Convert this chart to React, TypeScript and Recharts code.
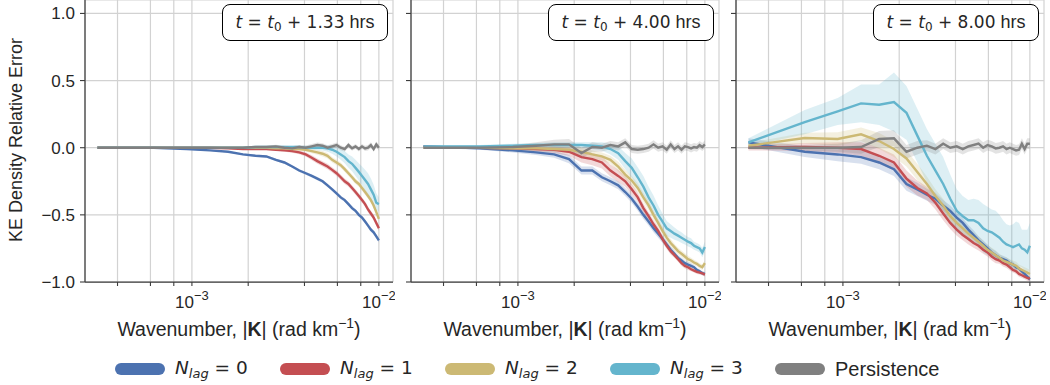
import React from 'react';
import { ComposedChart, Line, Area, XAxis, YAxis, CartesianGrid } from 'recharts';

// Wavenumber |K| in rad/km (shared x values of all panels)
const wavenumber = [
  0.0003125, 0.000625, 0.0009375, 0.00125, 0.0015625, 0.001875, 0.0021875, 0.0025,
  0.0028125, 0.003125, 0.0034375, 0.00375, 0.0040625, 0.004375, 0.0046875, 0.005,
  0.0053125, 0.005625, 0.0059375, 0.00625, 0.0065625, 0.006875, 0.0071875, 0.0075,
  0.0078125, 0.008125, 0.0084375, 0.00875, 0.0090625, 0.009375, 0.0096875, 0.01,
];

const xTicks = [0.0004, 0.0006, 0.0008, 0.001, 0.002, 0.004, 0.006, 0.008, 0.01];
const xTickLabels: Record<string, string> = { '0.001': '−3', '0.01': '−2' };
const yTicks = [-1, -0.5, 0, 0.5, 1];
const panelTimes = ['1.33', '4.00', '8.00'];

// t0 + 1.33 hrs
const lag0At1h = [0, 0, -0.01, -0.02, -0.03, -0.05, -0.06, -0.065, -0.09, -0.11, -0.14, -0.17, -0.19, -0.21, -0.23, -0.25, -0.28, -0.31, -0.34, -0.37, -0.39, -0.42, -0.45, -0.47, -0.5, -0.52, -0.55, -0.58, -0.61, -0.63, -0.66, -0.69];
const lag1At1h = [0, 0, 0, 0, -0.005, -0.01, -0.01, -0.01, -0.015, -0.02, -0.025, -0.035, -0.05, -0.075, -0.1, -0.12, -0.14, -0.165, -0.19, -0.22, -0.25, -0.27, -0.3, -0.33, -0.36, -0.39, -0.42, -0.46, -0.49, -0.52, -0.56, -0.6];
const lag2At1h = [0, 0, 0, 0, 0, 0, 0, 0, -0.005, -0.005, -0.01, -0.01, -0.015, -0.025, -0.035, -0.045, -0.06, -0.09, -0.11, -0.13, -0.16, -0.19, -0.22, -0.25, -0.27, -0.3, -0.33, -0.36, -0.39, -0.43, -0.48, -0.53];
const lag3At1h = [0, 0, 0, 0, 0, 0, 0.005, 0.005, 0.005, 0.005, 0.005, 0.005, 0, 0, 0, 0, -0.005, -0.015, -0.03, -0.05, -0.07, -0.1, -0.12, -0.15, -0.18, -0.21, -0.24, -0.27, -0.31, -0.35, -0.41, -0.42];
const persistAt1h = [0, 0, 0, 0, 0, 0, 0.005, 0.005, 0.01, 0, -0.005, 0.005, 0, 0.01, 0.02, 0.015, 0, 0.01, 0.02, 0, -0.01, 0.02, -0.005, 0.01, -0.01, 0.01, -0.005, 0, 0.02, -0.01, 0.025, 0];

const lag0SdAt1h = [0.002, 0.002, 0.003, 0.004, 0.005, 0.006, 0.007, 0.008, 0.009, 0.01, 0.01, 0.01, 0.011, 0.011, 0.012, 0.012, 0.012, 0.012, 0.013, 0.013, 0.013, 0.013, 0.014, 0.014, 0.014, 0.014, 0.015, 0.015, 0.015, 0.015, 0.015, 0.015];
const lag1SdAt1h = [0.002, 0.002, 0.002, 0.003, 0.004, 0.005, 0.006, 0.007, 0.008, 0.01, 0.012, 0.014, 0.016, 0.018, 0.02, 0.02, 0.02, 0.02, 0.02, 0.02, 0.02, 0.02, 0.02, 0.02, 0.02, 0.02, 0.02, 0.02, 0.02, 0.02, 0.02, 0.02];
const lag2SdAt1h = [0.002, 0.002, 0.002, 0.003, 0.004, 0.005, 0.006, 0.007, 0.008, 0.009, 0.01, 0.012, 0.014, 0.016, 0.018, 0.02, 0.02, 0.02, 0.02, 0.02, 0.02, 0.02, 0.02, 0.02, 0.02, 0.02, 0.02, 0.02, 0.02, 0.02, 0.02, 0.02];
const lag3SdAt1h = [0.002, 0.002, 0.003, 0.004, 0.005, 0.006, 0.007, 0.008, 0.009, 0.01, 0.01, 0.012, 0.014, 0.016, 0.018, 0.02, 0.025, 0.03, 0.035, 0.04, 0.045, 0.05, 0.055, 0.06, 0.065, 0.07, 0.075, 0.08, 0.08, 0.075, 0.07, 0.05];
const persistSdAt1h = [0.002, 0.002, 0.003, 0.004, 0.005, 0.006, 0.008, 0.01, 0.012, 0.014, 0.015, 0.016, 0.017, 0.018, 0.018, 0.018, 0.018, 0.018, 0.018, 0.018, 0.018, 0.018, 0.018, 0.018, 0.018, 0.018, 0.02, 0.02, 0.02, 0.02, 0.022, 0.022];

// t0 + 4.00 hrs
const lag0At4h = [0.01, -0.005, -0.02, -0.035, -0.05, -0.085, -0.17, -0.17, -0.22, -0.25, -0.28, -0.33, -0.38, -0.44, -0.5, -0.55, -0.6, -0.64, -0.68, -0.72, -0.76, -0.79, -0.82, -0.84, -0.86, -0.87, -0.88, -0.89, -0.91, -0.92, -0.935, -0.94];
const lag1At4h = [0.005, 0, -0.005, -0.01, -0.015, -0.03, -0.07, -0.085, -0.11, -0.17, -0.21, -0.25, -0.31, -0.37, -0.45, -0.51, -0.57, -0.62, -0.68, -0.73, -0.77, -0.8, -0.83, -0.86, -0.88, -0.89, -0.905, -0.915, -0.925, -0.93, -0.935, -0.945];
const lag2At4h = [0, 0, -0.005, -0.005, -0.01, -0.015, -0.03, -0.05, -0.065, -0.09, -0.14, -0.2, -0.245, -0.3, -0.37, -0.43, -0.5, -0.56, -0.62, -0.67, -0.71, -0.74, -0.77, -0.79, -0.81, -0.83, -0.84, -0.855, -0.865, -0.88, -0.89, -0.86];
const lag3At4h = [0.01, 0.01, 0.015, 0.02, 0.02, 0.02, 0.02, 0.015, 0.01, -0.01, -0.04, -0.1, -0.15, -0.22, -0.29, -0.37, -0.43, -0.5, -0.55, -0.6, -0.62, -0.64, -0.655, -0.67, -0.685, -0.7, -0.71, -0.73, -0.74, -0.75, -0.78, -0.74];
const persistAt4h = [0, 0, 0.005, 0.015, 0.025, 0.025, -0.04, 0.005, 0, 0.02, 0.01, 0.04, -0.01, -0.015, -0.01, 0, 0.025, 0, 0.01, -0.015, 0.025, -0.01, 0.01, -0.015, 0.01, 0.005, -0.005, 0.005, 0, 0.02, 0.005, 0.025];

const lag0SdAt4h = [0.01, 0.01, 0.015, 0.02, 0.025, 0.03, 0.03, 0.03, 0.03, 0.03, 0.03, 0.03, 0.03, 0.03, 0.03, 0.03, 0.03, 0.03, 0.03, 0.025, 0.025, 0.025, 0.02, 0.02, 0.02, 0.02, 0.02, 0.015, 0.015, 0.015, 0.015, 0.015];
const lag1SdAt4h = [0.01, 0.01, 0.015, 0.02, 0.025, 0.03, 0.04, 0.045, 0.045, 0.045, 0.045, 0.04, 0.04, 0.035, 0.035, 0.03, 0.03, 0.03, 0.025, 0.025, 0.025, 0.02, 0.02, 0.02, 0.02, 0.02, 0.015, 0.015, 0.015, 0.015, 0.015, 0.015];
const lag2SdAt4h = [0.01, 0.01, 0.015, 0.02, 0.02, 0.025, 0.03, 0.03, 0.03, 0.03, 0.035, 0.035, 0.035, 0.035, 0.035, 0.035, 0.035, 0.03, 0.03, 0.03, 0.03, 0.025, 0.025, 0.025, 0.025, 0.025, 0.02, 0.02, 0.02, 0.02, 0.02, 0.02];
const lag3SdAt4h = [0.01, 0.01, 0.015, 0.015, 0.02, 0.02, 0.02, 0.025, 0.03, 0.04, 0.05, 0.06, 0.07, 0.075, 0.08, 0.08, 0.075, 0.07, 0.06, 0.055, 0.05, 0.045, 0.04, 0.04, 0.035, 0.035, 0.035, 0.03, 0.03, 0.03, 0.035, 0.04];
const persistSdAt4h = [0.01, 0.01, 0.015, 0.025, 0.035, 0.04, 0.04, 0.035, 0.03, 0.03, 0.03, 0.03, 0.03, 0.03, 0.03, 0.03, 0.03, 0.03, 0.03, 0.03, 0.03, 0.03, 0.03, 0.03, 0.03, 0.03, 0.03, 0.03, 0.03, 0.03, 0.03, 0.03];

// t0 + 8.00 hrs
const lag0At8h = [0.04, -0.03, -0.05, -0.07, -0.11, -0.16, -0.27, -0.31, -0.35, -0.38, -0.43, -0.47, -0.52, -0.56, -0.61, -0.65, -0.69, -0.72, -0.75, -0.78, -0.8, -0.82, -0.83, -0.84, -0.86, -0.87, -0.89, -0.9, -0.92, -0.94, -0.96, -0.98];
const lag1At8h = [0, 0.005, 0, -0.01, -0.06, -0.11, -0.23, -0.3, -0.34, -0.41, -0.49, -0.56, -0.61, -0.65, -0.68, -0.71, -0.73, -0.76, -0.78, -0.81, -0.83, -0.84, -0.86, -0.87, -0.89, -0.91, -0.92, -0.94, -0.95, -0.96, -0.97, -0.975];
const lag2At8h = [0.015, 0.072, 0.065, 0.1, 0.05, -0.01, -0.08, -0.18, -0.27, -0.36, -0.43, -0.51, -0.56, -0.6, -0.64, -0.67, -0.7, -0.73, -0.76, -0.78, -0.8, -0.82, -0.84, -0.85, -0.86, -0.87, -0.88, -0.9, -0.91, -0.92, -0.93, -0.94];
const lag3At8h = [0.04, 0.19, 0.27, 0.33, 0.32, 0.34, 0.26, 0.09, -0.06, -0.17, -0.27, -0.38, -0.47, -0.51, -0.54, -0.54, -0.56, -0.6, -0.62, -0.63, -0.65, -0.67, -0.7, -0.72, -0.73, -0.74, -0.73, -0.72, -0.75, -0.76, -0.78, -0.73];
const persistAt8h = [0, 0, 0, 0.005, 0.065, 0.07, -0.03, 0, 0.015, -0.01, 0.03, 0, 0.01, -0.01, 0.01, 0.02, 0.03, 0, 0.02, 0.01, -0.005, 0, 0.01, -0.01, 0, -0.01, -0.02, -0.015, 0.03, -0.01, 0.03, 0.03];

const lag0SdAt8h = [0.03, 0.04, 0.05, 0.05, 0.05, 0.05, 0.05, 0.05, 0.045, 0.045, 0.04, 0.04, 0.04, 0.035, 0.035, 0.035, 0.03, 0.03, 0.03, 0.03, 0.03, 0.025, 0.025, 0.025, 0.025, 0.02, 0.02, 0.02, 0.02, 0.02, 0.02, 0.02];
const lag1SdAt8h = [0.02, 0.03, 0.04, 0.05, 0.06, 0.06, 0.06, 0.055, 0.05, 0.05, 0.05, 0.045, 0.045, 0.04, 0.04, 0.035, 0.035, 0.03, 0.03, 0.03, 0.03, 0.025, 0.025, 0.025, 0.025, 0.02, 0.02, 0.02, 0.02, 0.02, 0.02, 0.02];
const lag2SdAt8h = [0.02, 0.04, 0.05, 0.05, 0.06, 0.06, 0.06, 0.06, 0.055, 0.05, 0.05, 0.05, 0.045, 0.045, 0.04, 0.04, 0.04, 0.035, 0.035, 0.035, 0.035, 0.03, 0.03, 0.03, 0.03, 0.03, 0.03, 0.03, 0.03, 0.03, 0.03, 0.03];
const lag3SdAt8h = [0.03, 0.09, 0.1, 0.14, 0.15, 0.22, 0.2, 0.2, 0.2, 0.2, 0.2, 0.18, 0.16, 0.15, 0.15, 0.16, 0.17, 0.18, 0.18, 0.17, 0.18, 0.17, 0.16, 0.15, 0.15, 0.17, 0.18, 0.16, 0.14, 0.15, 0.17, 0.17];
const persistSdAt8h = [0.01, 0.02, 0.03, 0.05, 0.06, 0.06, 0.05, 0.05, 0.04, 0.04, 0.04, 0.04, 0.04, 0.04, 0.04, 0.04, 0.04, 0.04, 0.04, 0.04, 0.04, 0.04, 0.04, 0.04, 0.04, 0.04, 0.04, 0.04, 0.04, 0.04, 0.04, 0.04];

const FONT = '"Liberation Sans", Arial, sans-serif';
const MATH = '"DejaVu Sans", sans-serif';
const TEXT_COLOR = '#262626';
const AXIS_COLOR = '#3d3d3d';

const series = [
  { key: 'lag0', color: '#4C72B0', lag: '0' },
  { key: 'lag1', color: '#C44E52', lag: '1' },
  { key: 'lag2', color: '#CCB974', lag: '2' },
  { key: 'lag3', color: '#64B5CD', lag: '3' },
  { key: 'persist', color: '#808080', lag: null },
];

const panels = [
  {
    mean: { lag0: lag0At1h, lag1: lag1At1h, lag2: lag2At1h, lag3: lag3At1h, persist: persistAt1h },
    sd: { lag0: lag0SdAt1h, lag1: lag1SdAt1h, lag2: lag2SdAt1h, lag3: lag3SdAt1h, persist: persistSdAt1h },
  },
  {
    mean: { lag0: lag0At4h, lag1: lag1At4h, lag2: lag2At4h, lag3: lag3At4h, persist: persistAt4h },
    sd: { lag0: lag0SdAt4h, lag1: lag1SdAt4h, lag2: lag2SdAt4h, lag3: lag3SdAt4h, persist: persistSdAt4h },
  },
  {
    mean: { lag0: lag0At8h, lag1: lag1At8h, lag2: lag2At8h, lag3: lag3At8h, persist: persistAt8h },
    sd: { lag0: lag0SdAt8h, lag1: lag1SdAt8h, lag2: lag2SdAt8h, lag3: lag3SdAt8h, persist: persistSdAt8h },
  },
];

// Build the rows: line value plus [low, high] for the shaded band
const buildRows = (panel: { mean: Record<string, number[]>; sd: Record<string, number[]> }) =>
  wavenumber.map((k, i) => {
    const row: Record<string, any> = { k };
    series.forEach(({ key }) => {
      const m = panel.mean[key][i];
      const s = panel.sd[key][i];
      row[key] = m;
      row[`${key}Band`] = [m - s, m + s];
    });
    return row;
  });

const XTick = ({ x, y, payload }: any) => {
  const exp = xTickLabels[String(payload.value)];
  if (!exp) return <g />;
  return (
    <text x={x} y={y + 20} textAnchor="middle" fontSize={17} fill={TEXT_COLOR} fontFamily={FONT}>
      10<tspan dy={-8} fontSize={13}>{exp}</tspan>
    </text>
  );
};

const XTitle = ({ cx }: any) => (
  <text x={cx} y={336} textAnchor="middle" fontSize={19.5} fill={TEXT_COLOR} fontFamily={FONT}>
    Wavenumber, |<tspan fontWeight="bold">K</tspan>| (rad km<tspan dy={-8} fontSize={14}>−1</tspan>
    <tspan dy={8}>)</tspan>
  </text>
);

const YTitle = () => (
  <text x={16} y={140} transform="rotate(-90 16 140)" textAnchor="middle" dominantBaseline="central"
    fontSize={18} fill={TEXT_COLOR} fontFamily={FONT}>
    KE Density Relative Error
  </text>
);

const formatY = (v: number) => v.toFixed(1).replace('-', '−');

function Panel({ index, left }: { index: number; left: number }) {
  const first = index === 0;
  const yAxisWidth = first ? 85 : 6;
  const plotWidth = 308;
  const width = yAxisWidth + plotWidth + 2;
  const rows = buildRows(panels[index]);
  return (
    <div style={{ position: 'absolute', left, top: 0, width, height: 345 }}>
      <ComposedChart width={width} height={345} data={rows} margin={{ top: 0, right: 2, bottom: 0, left: 0 }}>
        <CartesianGrid stroke="#d2d2d2" strokeWidth={1.2} />
        <XAxis
          dataKey="k"
          type="number"
          scale="log"
          domain={[0.000268, 0.0119]}
          allowDataOverflow
          ticks={xTicks}
          interval={0}
          tick={<XTick />}
          tickSize={4}
          tickMargin={2}
          height={63}
          axisLine={{ stroke: AXIS_COLOR, strokeWidth: 1.25 }}
          tickLine={{ stroke: AXIS_COLOR, strokeWidth: 1.1 }}
          label={<XTitle cx={yAxisWidth + plotWidth / 2} />}
        />
        <YAxis
          type="number"
          domain={[-1, 1.1]}
          allowDataOverflow
          ticks={yTicks}
          interval={0}
          width={yAxisWidth}
          tickSize={5}
          tickMargin={5}
          tickFormatter={first ? formatY : () => ''}
          tick={{ fontSize: 17, fill: TEXT_COLOR, fontFamily: FONT }}
          axisLine={{ stroke: AXIS_COLOR, strokeWidth: 1.25 }}
          tickLine={{ stroke: AXIS_COLOR, strokeWidth: 1.1 }}
          label={first ? <YTitle /> : undefined}
        />
        {series.map(({ key, color }) => (
          <Area
            key={`${key}Band`}
            dataKey={`${key}Band`}
            type="linear"
            stroke="none"
            fill={color}
            fillOpacity={0.22}
            activeDot={false}
            isAnimationActive={false}
          />
        ))}
        {series.map(({ key, color }) => (
          <Line
            key={key}
            dataKey={key}
            type="linear"
            stroke={color}
            strokeWidth={2.4}
            dot={false}
            activeDot={false}
            isAnimationActive={false}
          />
        ))}
      </ComposedChart>
      <div
        style={{
          position: 'absolute',
          right: 7,
          top: 4,
          width: 166,
          height: 37,
          boxSizing: 'border-box',
          border: '1.2px solid #000',
          borderRadius: 8,
          background: '#fff',
          display: 'flex',
          alignItems: 'center',
          justifyContent: 'center',
          fontSize: 17,
          color: TEXT_COLOR,
          whiteSpace: 'nowrap',
        }}
      >
        <span style={{ fontFamily: MATH }}>
          <i>t</i> = <i>t</i>
          <sub style={{ fontSize: 12, verticalAlign: -3 }}>0</sub> + {panelTimes[index]}
        </span>
        <span style={{ fontFamily: FONT, fontSize: 18 }}>&nbsp;hrs</span>
      </div>
    </div>
  );
}

function LegendRow() {
  return (
    <div style={{ position: 'absolute', top: 356, left: 115, display: 'flex', height: 26 }}>
      {series.map(({ key, color, lag }) => (
        <div key={key} style={{ width: 165, display: 'flex', alignItems: 'center' }}>
          <div style={{ width: 50, height: 12, borderRadius: 6, background: color, marginRight: 10 }} />
          {lag !== null ? (
            <span style={{ fontFamily: MATH, fontSize: 18.5, color: TEXT_COLOR, whiteSpace: 'nowrap' }}>
              <i>N</i>
              <sub style={{ fontSize: 13, verticalAlign: -4 }}><i>lag</i></sub> = {lag}
            </span>
          ) : (
            <span style={{ fontFamily: FONT, fontSize: 20, color: TEXT_COLOR }}>Persistence</span>
          )}
        </div>
      ))}
    </div>
  );
}

export default function App() {
  return (
    <div style={{ position: 'absolute', left: 0, top: 0, width: 1050, height: 385, background: '#fff', overflow: 'hidden' }}>
      <Panel index={0} left={0} />
      <Panel index={1} left={405} />
      <Panel index={2} left={730} />
      <LegendRow />
    </div>
  );
}
